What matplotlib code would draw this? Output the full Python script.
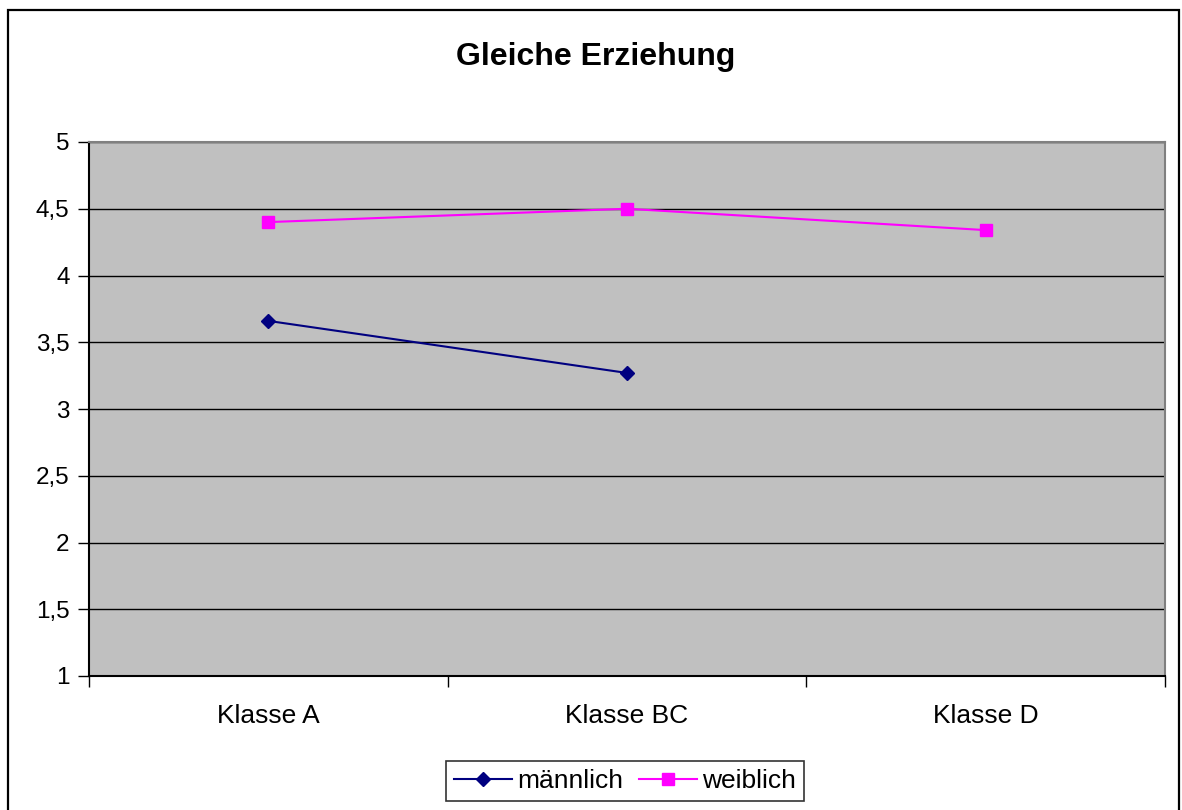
import matplotlib
matplotlib.use("Agg")
import matplotlib.pyplot as plt
from matplotlib.patches import Rectangle
from matplotlib.ticker import FixedLocator, NullFormatter

categories = ["Klasse A", "Klasse BC", "Klasse D"]
maennlich = [3.66, 3.27, None]
weiblich = [4.40, 4.50, 4.34]
yticks = [1, 1.5, 2, 2.5, 3, 3.5, 4, 4.5, 5]
ytick_labels = ["1", "1,5", "2", "2,5", "3", "3,5", "4", "4,5", "5"]

plt.rcParams["font.family"] = ["Liberation Sans", "DejaVu Sans"]

W, H = 1182, 810
fig = plt.figure(figsize=(W / 100, H / 100), dpi=100)

# outer chart border
fig.patches.append(Rectangle((8 / W, -0.01), (1179 - 8) / W, 1 - 10 / H + 0.01,
                             transform=fig.transFigure, fill=False,
                             edgecolor="black", linewidth=1.6))

left, right, top, bottom = 89, 1165, 142, 676
ax = fig.add_axes([left / W, 1 - bottom / H, (right - left) / W, (bottom - top) / H])
ax.set_facecolor("#c0c0c0")

x = list(range(len(categories)))
mx = [xi for xi, v in zip(x, maennlich) if v is not None]
my = [v for v in maennlich if v is not None]
ax.plot(mx, my, color="#000080", linewidth=1.5, marker="D", markersize=7,
        label="männlich", zorder=3)
ax.plot(x, weiblich, color="#ff00ff", linewidth=1.5, marker="s", markersize=9,
        label="weiblich", zorder=3)

ax.set_xlim(-0.5, len(categories) - 0.5)
ax.set_ylim(1, 5)
ax.set_yticks(yticks)
ax.set_yticklabels(ytick_labels, fontsize=17.5)
ax.yaxis.grid(True, color="black", linewidth=1)
ax.set_axisbelow(True)

ax.set_xticks(x)
ax.set_xticklabels(categories, fontsize=19)
ax.tick_params(axis="x", which="major", length=0, pad=20)
ax.xaxis.set_minor_locator(FixedLocator([i - 0.5 for i in range(len(categories) + 1)]))
ax.xaxis.set_minor_formatter(NullFormatter())
ax.tick_params(axis="x", which="minor", length=8, width=1, color="black", direction="out")
ax.tick_params(axis="y", length=8, width=1, direction="out", pad=6)

for s in ["left", "bottom"]:
    ax.spines[s].set_color("black")
    ax.spines[s].set_linewidth(1.5)
for s in ["top", "right"]:
    ax.spines[s].set_color("#808080")
    ax.spines[s].set_linewidth(1.5)

fig.text(596 / W, 1 - 57 / H, "Gleiche Erziehung", ha="center", va="center",
         fontsize=23, fontweight="bold")

leg = fig.legend(loc="center", bbox_to_anchor=(625 / W, 1 - 781 / H), ncol=2,
                 fontsize=19, frameon=True, fancybox=False, edgecolor="black",
                 handlelength=2.2, handletextpad=0.2, columnspacing=0.6,
                 borderpad=0.3)
leg.get_frame().set_linewidth(1.2)

fig.savefig("out.png", dpi=100)
